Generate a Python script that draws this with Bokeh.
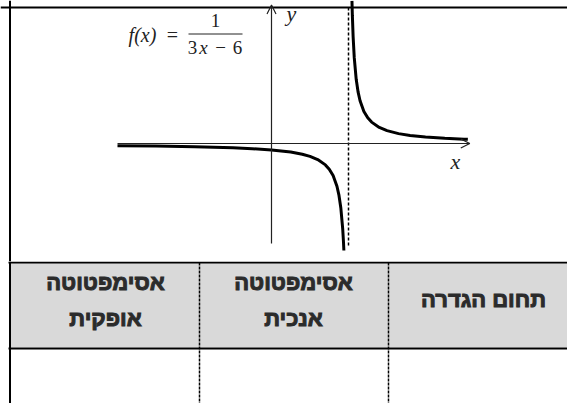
from bokeh.plotting import figure
from bokeh.layouts import column
from bokeh.models import Range1d, Arrow, OpenHead, Span
from bokeh.core.properties import value
from bokeh.embed import file_html
from bokeh.resources import INLINE

# ---- data: f(x) = 1/(3x-6) ----
left_x = [-4.0, -3.0, -2.0, -1.0, -0.5, 0.0, 0.5, 0.8, 1.0, 1.2, 1.4, 1.5, 1.6, 1.7, 1.75, 1.8, 1.85, 1.87, 1.88]
left_y = [-0.0556, -0.0667, -0.0833, -0.1111, -0.1333, -0.1667, -0.2222, -0.2778, -0.3333, -0.4167,
          -0.5556, -0.6667, -0.8333, -1.1111, -1.3333, -1.6667, -2.2222, -2.5641, -2.7778]
right_x = [2.09, 2.1, 2.12, 2.15, 2.2, 2.25, 2.3, 2.4, 2.5, 2.6, 2.8, 3.0, 3.3, 3.6, 4.0, 4.5, 5.0, 5.1]
right_y = [3.7037, 3.3333, 2.7778, 2.2222, 1.6667, 1.3333, 1.1111, 0.8333, 0.6667, 0.5556, 0.4167,
           0.3333, 0.2564, 0.2083, 0.1667, 0.1333, 0.1111, 0.1075]
asymptote_x = [2.0]
axis_x_span = [-4.0, 5.15]
axis_y_span = [-2.6, 3.6]

# ---- table texts ----
header_line1 = ["אסימפטוטה", "אסימפטוטה", "תחום הגדרה"]
header_line2 = ["אופקית", "אנכית", ""]

W = 567
TOP_H = 261
BOT_H = 142
SCALE = 38.5
OX = 271   # page x of y-axis
OY = 143   # page y of x-axis


def X(px):
    return (px - OX) / SCALE


def Y(py):
    return (OY - py) / SCALE


p = figure(width=W, height=TOP_H, output_backend="svg", toolbar_location=None,
           x_range=Range1d(X(0), X(W)), y_range=Range1d(Y(TOP_H), Y(0)),
           min_border=0)
p.axis.visible = False
p.grid.visible = False
p.outline_line_color = None
p.background_fill_color = "white"
p.border_fill_color = "white"

# frame borders
p.add_layout(Span(location=Y(7), dimension="width", line_color="black", line_width=2))
p.add_layout(Span(location=X(9.5), dimension="height", line_color="black", line_width=2))

# axes with arrows
p.add_layout(Arrow(end=OpenHead(size=9, line_width=1.2, line_color="#222222"),
                   x_start=axis_x_span[0], y_start=0, x_end=axis_x_span[1], y_end=0,
                   line_color="#222222", line_width=1.2))
p.add_layout(Arrow(end=OpenHead(size=9, line_width=1.2, line_color="#222222"),
                   x_start=0, y_start=axis_y_span[0], x_end=0, y_end=axis_y_span[1],
                   line_color="#222222", line_width=1.2))

# asymptote
p.segment(x0=asymptote_x, y0=[Y(245)], x1=asymptote_x, y1=[Y(7)],
          line_color="black", line_width=1.5, line_dash="3 2")

# curve
p.line(left_x, left_y, line_color="black", line_width=3)
p.line(right_x, right_y, line_color="black", line_width=3)

serif = value("Liberation Serif")
ink = "#222222"


def mtext(px, py, s, italic=False, size="19px"):
    p.text(x=[X(px)], y=[Y(py)], text=[s], text_font=serif,
           text_font_style="italic" if italic else "normal",
           text_font_size=size, text_align="center", text_baseline="middle", text_color=ink)


mtext(455, 161, "x", True, "22px")
mtext(291, 13, "y", True, "22px")
mtext(142, 34, "f(x)", True, "20px")
mtext(172, 34, "=", False, "20px")
mtext(215, 20, "1")
p.segment(x0=[X(188)], y0=[Y(33.5)], x1=[X(242)], y1=[Y(33.5)], line_color=ink, line_width=1)
mtext(192, 47, "3")
mtext(203, 47, "x", True)
mtext(220, 47, "−")
mtext(237, 47, "6")

# ---- table figure (page-pixel coordinates, y downward) ----
t = figure(width=W, height=BOT_H, output_backend="svg", toolbar_location=None,
           x_range=Range1d(0, W), y_range=Range1d(TOP_H + BOT_H, TOP_H), min_border=0)
t.axis.visible = False
t.grid.visible = False
t.outline_line_color = None
t.background_fill_color = "white"
t.border_fill_color = "white"

col_left = [10, 199, 388]
col_right = [199, 388, 580]
col_center = [105, 293, 483]

t.quad(left=col_left, right=col_right, top=[262] * 3, bottom=[347] * 3,
       fill_color="#d9d9d9", line_color=None)
t.segment(x0=[8, 8], y0=[262, 348], x1=[W, W], y1=[262, 348],
          line_color="black", line_width=2)
t.segment(x0=[9.5], y0=[261], x1=[9.5], y1=[TOP_H + BOT_H], line_color="black", line_width=2)
t.segment(x0=[199, 388], y0=[262, 262], x1=[199, 388], y1=[TOP_H + BOT_H, TOP_H + BOT_H],
          line_color="black", line_width=1.5, line_dash="3 1")

heb = value("Liberation Sans")
hc = "#2b2b2b"
common = dict(text_font=heb, text_font_style="bold", text_font_size="22px",
              text_align="center", text_baseline="middle", text_color=hc,
              text_outline_color=hc)
t.text(x=col_center[:2], y=[282, 282], text=header_line1[:2], **common)
t.text(x=col_center[:2], y=[318, 318], text=header_line2[:2], **common)
t.text(x=[col_center[2]], y=[299], text=[header_line1[2]], **common)

layout = column(p, t, spacing=0)
open("out.html", "w").write(file_html(layout, INLINE))
